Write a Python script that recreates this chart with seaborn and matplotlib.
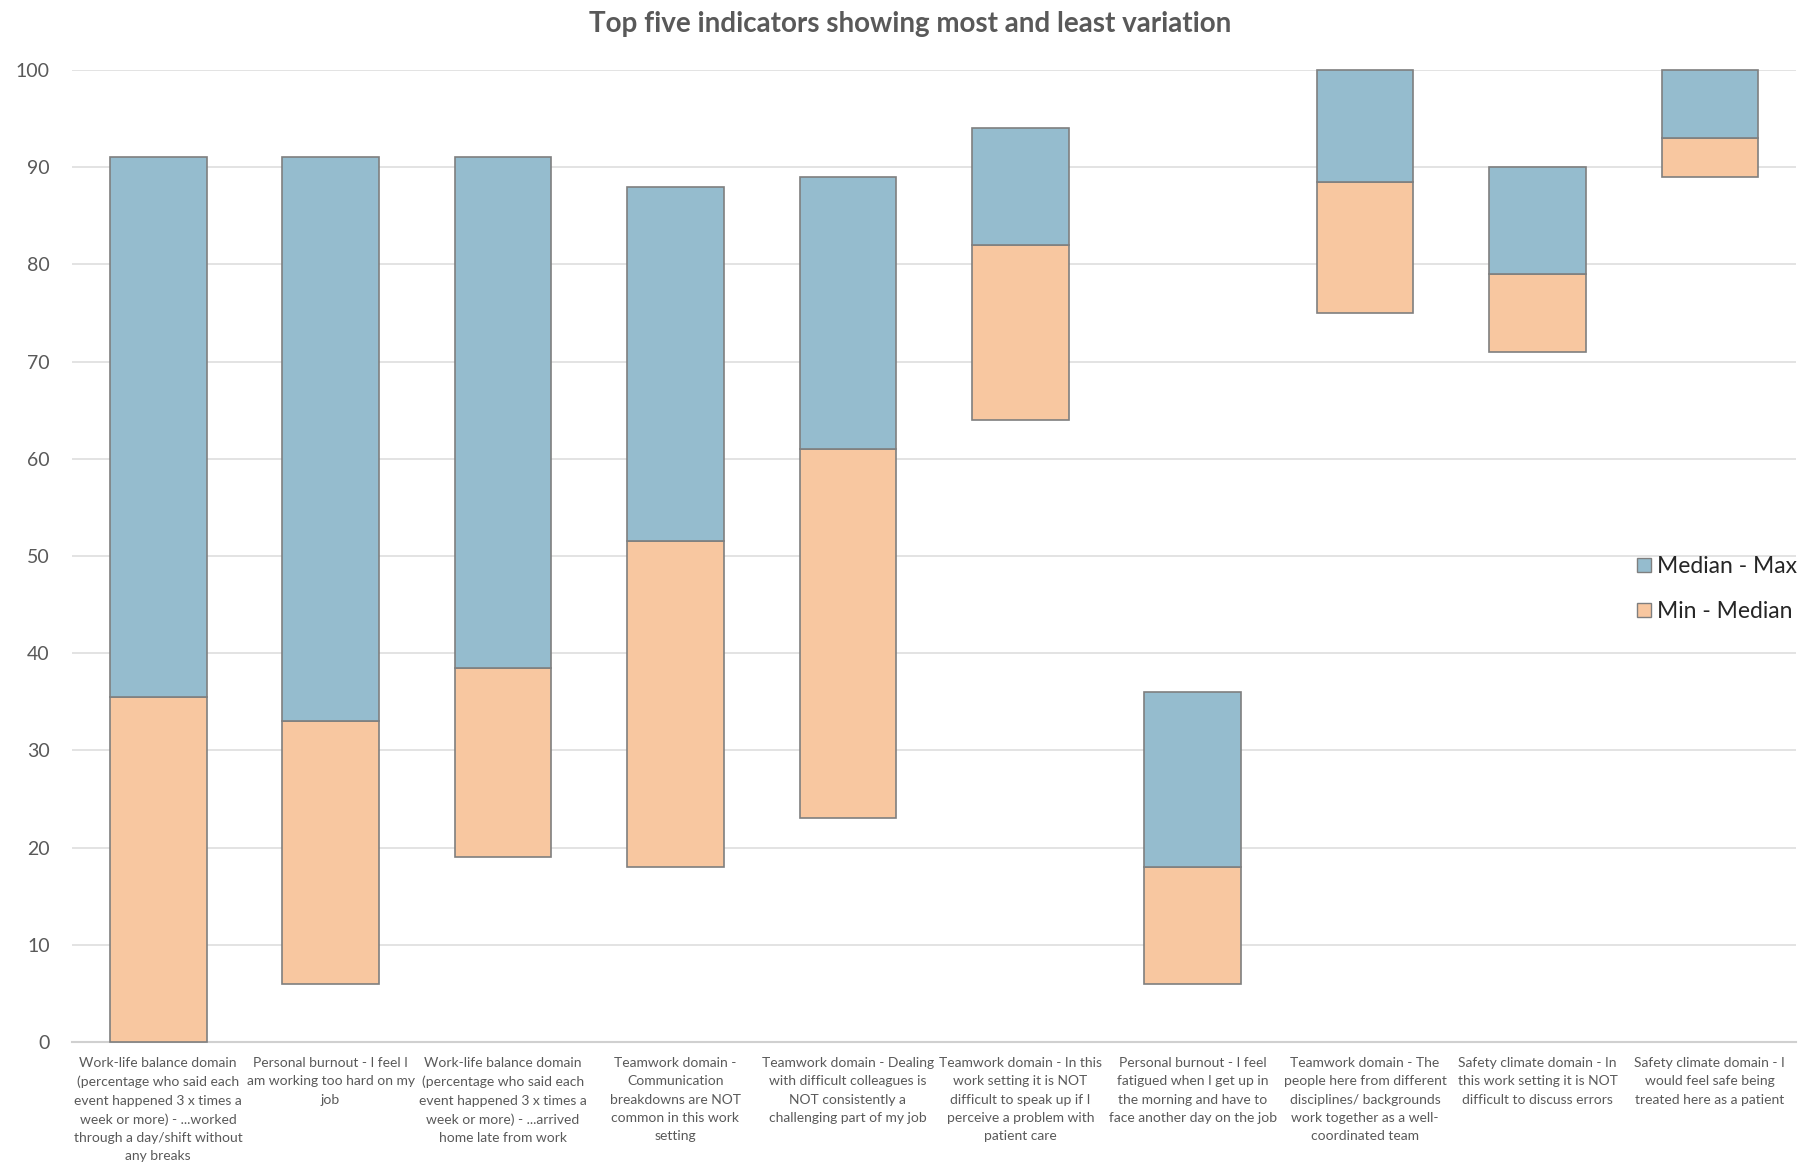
import matplotlib
matplotlib.use("Agg")
import matplotlib.pyplot as plt
import seaborn as sns
import numpy as np
import pandas as pd
from matplotlib.patches import Patch

categories = [
    "Work-life balance domain\n(percentage who said each\nevent happened 3 x times a\nweek or more) - ...worked\nthrough a day/shift without\nany breaks",
    "Personal burnout - I feel I\nam working too hard on my\njob",
    "Work-life balance domain\n(percentage who said each\nevent happened 3 x times a\nweek or more) - ...arrived\nhome late from work",
    "Teamwork domain -\nCommunication\nbreakdowns are NOT\ncommon in this work\nsetting",
    "Teamwork domain - Dealing\nwith difficult colleagues is\nNOT consistently a\nchallenging part of my job",
    "Teamwork domain - In this\nwork setting it is NOT\ndifficult to speak up if I\nperceive a problem with\npatient care",
    "Personal burnout - I feel\nfatigued when I get up in\nthe morning and have to\nface another day on the job",
    "Teamwork domain - The\npeople here from different\ndisciplines/ backgrounds\nwork together as a well-\ncoordinated team",
    "Safety climate domain - In\nthis work setting it is NOT\ndifficult to discuss errors",
    "Safety climate domain - I\nwould feel safe being\ntreated here as a patient",
]
min_vals = [0, 6, 19, 18, 23, 64, 6, 75, 71, 89]
median_vals = [35.5, 33, 38.5, 51.5, 61, 82, 18, 88.5, 79, 93]
max_vals = [91, 91, 91, 88, 89, 94, 36, 100, 90, 100]
series_names = ["Median - Max", "Min - Median"]

blue = "#95BCCE"
orange = "#F8C7A0"
edge = "#7F7F7F"
text_col = "#595959"

sns.set_theme(style="white")
plt.rcParams["font.family"] = ["Lato", "DejaVu Sans"]

df = pd.DataFrame({
    "cat": categories,
    "lo": np.array(median_vals) - np.array(min_vals),
    "hi": np.array(max_vals) - np.array(median_vals),
})

fig = plt.figure(figsize=(18.1, 11.62), dpi=100)
ax = fig.add_axes([0.0398, 0.1033, 0.9525, 0.8365])

sns.barplot(data=df, x="cat", y="lo", bottom=np.array(min_vals, dtype=float),
            color=orange, saturation=1, width=0.56, edgecolor=edge, linewidth=1.2,
            ax=ax, zorder=3, clip_on=False)
sns.barplot(data=df, x="cat", y="hi", bottom=np.array(median_vals, dtype=float),
            color=blue, saturation=1, width=0.56, edgecolor=edge, linewidth=1.2,
            ax=ax, zorder=3, clip_on=False)

ax.set_xlim(-0.5, 9.5)
ax.set_ylim(0, 100)
ax.set_yticks(range(0, 101, 10))
ax.yaxis.grid(True, color="#E0E0E0", linewidth=1.3, zorder=0)
ax.set_axisbelow(True)
for s in ["top", "right", "left"]:
    ax.spines[s].set_visible(False)
ax.spines["bottom"].set_color("#D0D0D0")
ax.spines["bottom"].set_linewidth(1.5)
ax.set_xlabel("")
ax.set_ylabel("")
ax.tick_params(axis="y", length=0, pad=16, labelsize=14, labelcolor=text_col)
ax.tick_params(axis="x", length=0, pad=11)
ax.set_xticks(range(len(categories)))
ax.set_xticklabels(categories, fontsize=10, color=text_col, va="top", ha="center",
                   linespacing=1.62)

fig.text(0.503, 0.979, "Top five indicators showing most and least variation",
         ha="center", va="center", fontsize=20, fontweight="bold", color=text_col)

handles = [Patch(facecolor=blue, edgecolor=edge, label=series_names[0]),
           Patch(facecolor=orange, edgecolor=edge, label=series_names[1])]
fig.legend(handles=handles, loc="center left", bbox_to_anchor=(0.9045, 0.493),
           frameon=False, fontsize=16.5, handlelength=0.6, handleheight=0.6,
           handletextpad=0.25, labelspacing=1.05, labelcolor="#262626",
           borderaxespad=0, borderpad=0)

fig.savefig("out.png", dpi=100)
